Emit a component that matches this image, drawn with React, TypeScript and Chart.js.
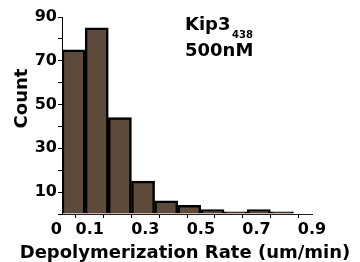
import React, { useEffect, useRef } from "react";
import { Chart, registerables } from "chart.js";

Chart.register(...registerables);

const binCenters = [0.0417, 0.125, 0.2083, 0.2917, 0.375, 0.4583, 0.5417, 0.625, 0.7083, 0.7917];
const counts = [75, 85, 44, 15, 6, 4, 2, 1, 2, 1];
const xTickValues = [0, 0.1, 0.3, 0.5, 0.7, 0.9];
const xTickLabels = ["0  ", "0.1", "0.3", "0.5", "0.7", "0.9"];
const yTickValues = [10, 30, 50, 70, 90];
const yTickLabels = ["10", "30", "50", "70", "90"];
const xTitle = "Depolymerization Rate (um/min)";
const yTitle = "Count";
const noteMain = "Kip3";
const noteSub = "438";
const noteLine2 = "500nM";

const FONT = '"DejaVu Sans", sans-serif';

const textPlugin = {
  id: "texts",
  afterDraw(chart: any) {
    const ctx = chart.ctx;
    const { left, right, top, bottom } = chart.chartArea;
    ctx.save();
    ctx.fillStyle = "#000";
    ctx.font = `bold 18px ${FONT}`;
    ctx.save();
    ctx.translate(27, (top + bottom) / 2 - 17);
    ctx.rotate(-Math.PI / 2);
    ctx.textAlign = "center";
    ctx.textBaseline = "alphabetic";
    ctx.fillText(yTitle, 0, 0);
    ctx.restore();

    ctx.textAlign = "center";
    ctx.textBaseline = "alphabetic";
    ctx.fillText(xTitle, (left + right) / 2 - 2, bottom + 44);

    ctx.textAlign = "left";
    const x0 = left + 123;
    ctx.font = `bold 18px ${FONT}`;
    ctx.fillText(noteMain, x0, top + 13);
    const w = ctx.measureText(noteMain).width;
    ctx.font = `bold 10px ${FONT}`;
    ctx.fillText(noteSub, x0 + w + 1.5, top + 21);
    ctx.font = `bold 18px ${FONT}`;
    ctx.fillText(noteLine2, x0, top + 39);
    ctx.restore();
  },
};

export default function App() {
  const ref = useRef<HTMLCanvasElement>(null);
  useEffect(() => {
    const canvas = ref.current!;
    const chart = new Chart(canvas, {
      type: "bar",
      data: {
        datasets: [
          {
            data: binCenters.map((x, i) => ({ x, y: counts[i] })),
            backgroundColor: "#5e4a3b",
            borderColor: "#000",
            borderWidth: 2.5,
            barPercentage: 1,
            categoryPercentage: 1,
          },
        ],
      },
      options: {
        responsive: false,
        animation: false,
        devicePixelRatio: 1,
        layout: { padding: { top: 17, right: 48, left: 0, bottom: 0 } },
        plugins: { legend: { display: false }, tooltip: { enabled: false } },
        scales: {
          x: {
            type: "linear",
            min: 0,
            max: 0.9,
            offset: false,
            afterFit: (s: any) => {
              s.height = 48;
            },
            afterBuildTicks: (s: any) => {
              const t = [];
              for (let i = 0; i <= 9; i++) t.push({ value: i / 10 });
              s.ticks = t;
            },
            ticks: {
              autoSkip: false,
              maxRotation: 0,
              padding: 2,
              color: "#000",
              font: { family: FONT, weight: "bold", size: 16 },
              callback: (v: any) => {
                const idx = xTickValues.findIndex((t) => Math.abs(t - Number(v)) < 1e-6);
                return idx >= 0 ? xTickLabels[idx] : "";
              },
            },
            grid: {
              display: true,
              drawOnChartArea: false,
              drawTicks: true,
              tickLength: 4,
              color: "#000",
              lineWidth: 1,
            },
            border: { display: true, color: "#222", width: 1 },
          },
          y: {
            min: 0,
            max: 90,
            afterFit: (s: any) => {
              s.width = 62;
            },
            afterBuildTicks: (s: any) => {
              const t = [];
              for (let i = 0; i <= 9; i++) t.push({ value: i * 10 });
              s.ticks = t;
            },
            ticks: {
              autoSkip: false,
              padding: 1,
              color: "#000",
              font: { family: FONT, weight: "bold", size: 16 },
              callback: (v: any) => {
                const idx = yTickValues.indexOf(Math.round(Number(v)));
                return idx >= 0 ? yTickLabels[idx] : "";
              },
            },
            grid: {
              display: true,
              drawOnChartArea: false,
              drawTicks: true,
              tickLength: 4,
              color: "#000",
              lineWidth: 1,
            },
            border: { display: true, color: "#000", width: 1 },
          },
        },
      },
      plugins: [textPlugin],
    });
    return () => chart.destroy();
  }, []);
  return (
    <div style={{ position: "fixed", left: 0, top: 0, width: 360, height: 262, background: "#fff" }}>
      <canvas ref={ref} width={360} height={262} />
    </div>
  );
}
